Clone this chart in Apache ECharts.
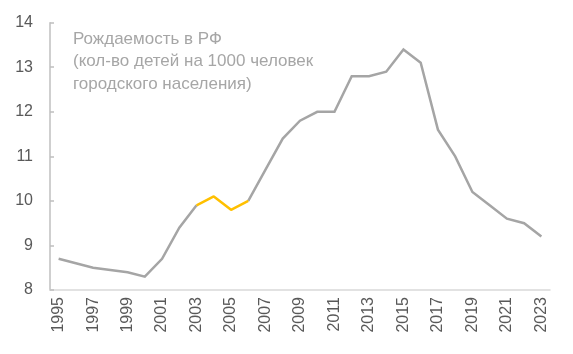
<!DOCTYPE html>
<html><head><meta charset="utf-8">
<script src="https://cdn.jsdelivr.net/npm/echarts@6/dist/echarts.min.js"></script>
<style>html,body{margin:0;padding:0;background:#fff}#c{width:573px;height:354px}</style>
</head><body><div id="c"></div>
<script>
const years = ['1995','1996','1997','1998','1999','2000','2001','2002','2003','2004','2005','2006','2007','2008','2009','2010','2011','2012','2013','2014','2015','2016','2017','2018','2019','2020','2021','2022','2023'];
const birthRate = [8.7,8.6,8.5,8.45,8.4,8.3,8.7,9.4,9.9,10.1,9.8,10.0,10.7,11.4,11.8,12.0,12.0,12.8,12.8,12.9,13.4,13.1,11.6,11.0,10.2,9.9,9.6,9.5,9.2];
const highlightYears = ['2003','2004','2005','2006'];
const yTicks = [8,9,10,11,12,13,14];
const titleLines = ['Рождаемость в РФ','(кол-во детей на 1000 человек','городского населения)'];

const inner = new Set(highlightYears.slice(1, -1));
const grayData = years.map((y,i) => inner.has(y) ? null : birthRate[i]);
const yellowData = years.map((y,i) => highlightYears.includes(y) ? birthRate[i] : null);

const chart = echarts.init(document.getElementById('c'), null, {renderer:'canvas'});
const font = '"Liberation Sans", Arial, sans-serif';
chart.setOption({
  animation:false,
  backgroundColor:'#fff',
  title:{
    text: titleLines.join('\n'),
    left:73, top:28, padding:0,
    textStyle:{color:'#a6a6a6', fontSize:17, fontWeight:'normal', fontFamily:font, lineHeight:22.5}
  },
  grid:{left:50, right:23, top:22.7, bottom:64},
  xAxis:{
    type:'category', data:years, boundaryGap:true,
    axisLine:{lineStyle:{color:'#d9d9d9', width:1.5}},
    axisTick:{show:false},
    axisLabel:{interval:1, rotate:90, color:'#595959', fontSize:16, fontFamily:font, margin:7}
  },
  yAxis:{
    type:'value', min:yTicks[0], max:yTicks[yTicks.length-1], interval:1,
    axisLine:{show:true, lineStyle:{color:'#bfbfbf', width:1.5}},
    axisTick:{show:true, inside:true, length:4, lineStyle:{color:'#bfbfbf', width:1.5}},
    splitLine:{show:false},
    axisLabel:{color:'#595959', fontSize:16, fontFamily:font, margin:17}
  },
  series:[
    {type:'line', data:grayData, symbol:'none', connectNulls:false,
     lineStyle:{color:'#a5a5a5', width:2.5, join:'miter'}},
    {type:'line', data:yellowData, symbol:'none', connectNulls:false,
     lineStyle:{color:'#ffc000', width:2.5}}
  ]
});
</script></body></html>
